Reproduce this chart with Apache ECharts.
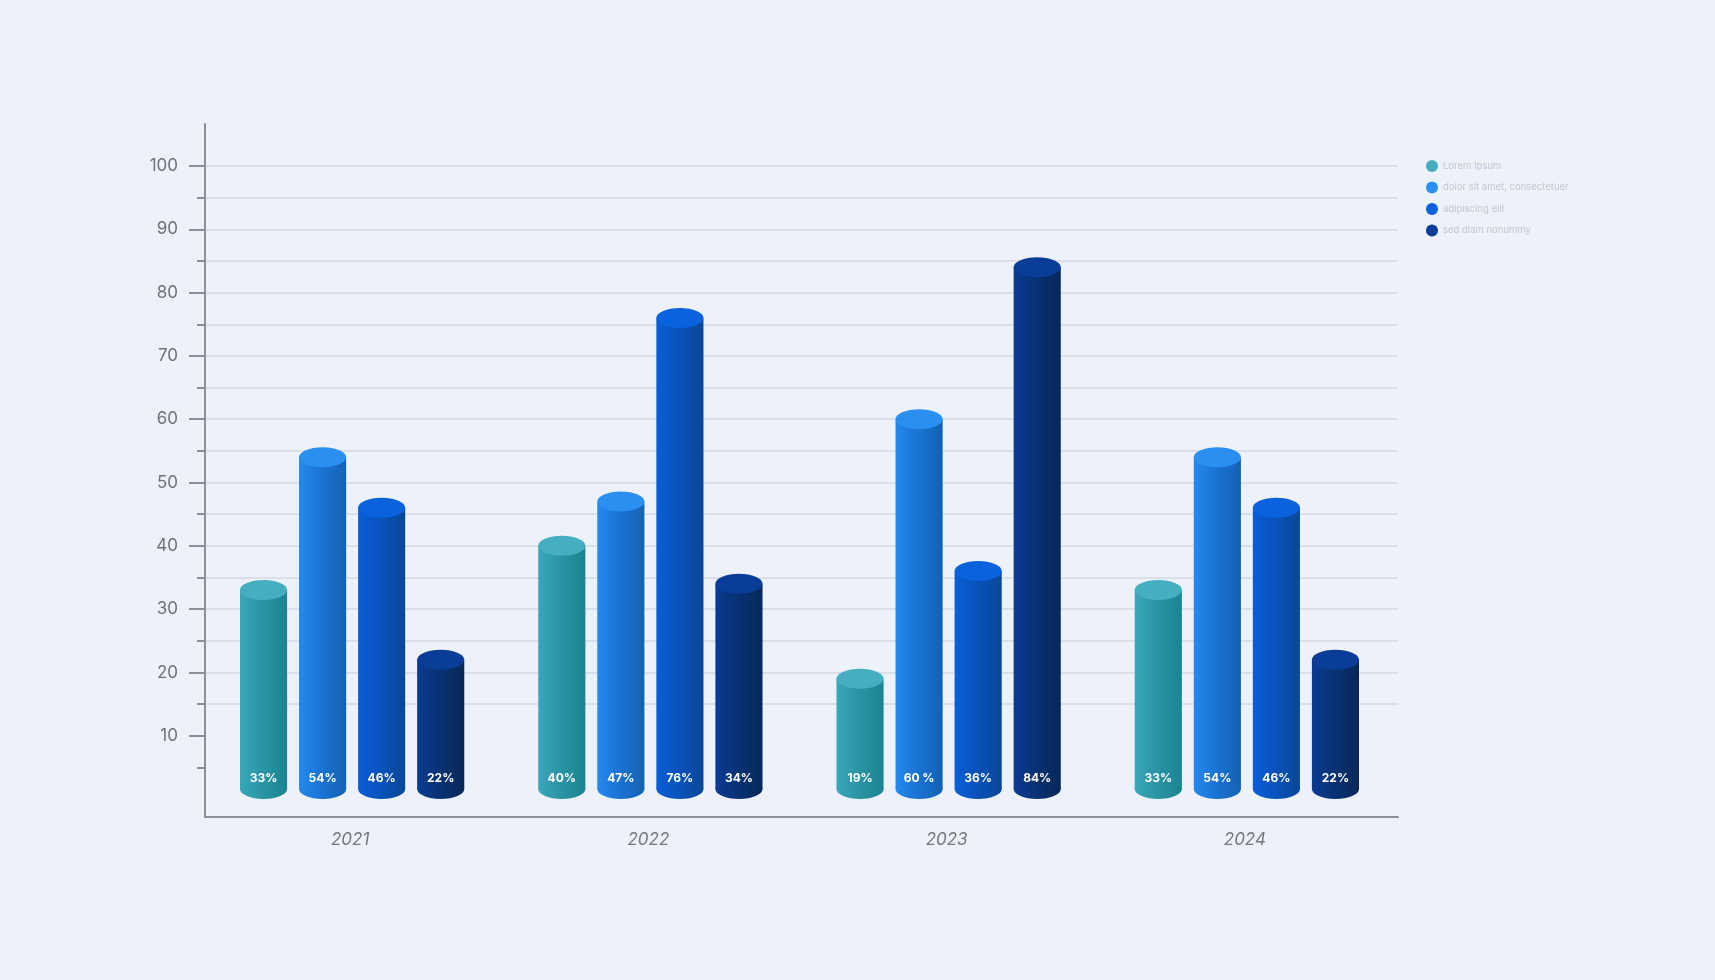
<!DOCTYPE html>
<html>
<head>
<meta charset="utf-8">
<script src="https://cdn.jsdelivr.net/npm/echarts@6/dist/echarts.min.js"></script>
<style>
  html, body { margin: 0; padding: 0; background: #edf1f9; }
  #chart { width: 1715px; height: 980px; }
</style>
</head>
<body>
<div id="chart"></div>
<script>
var years = ['2021', '2022', '2023', '2024'];
var seriesNames = ['Lorem Ipsum', 'dolor sit amet, consectetuer', 'adipiscing elit', 'sed diam nonummy'];
var loremVals = [33, 40, 19, 33];
var dolorVals = [54, 47, 60, 54];
var adipVals = [46, 76, 36, 46];
var sedVals = [22, 34, 84, 22];
var loremLabels = ['33%', '40%', '19%', '33%'];
var dolorLabels = ['54%', '47%', '60 %', '54%'];
var adipLabels = ['46%', '76%', '36%', '46%'];
var sedLabels = ['22%', '34%', '84%', '22%'];
var yMajorTicks = [10, 20, 30, 40, 50, 60, 70, 80, 90, 100];
var yMinorTicks = [5, 15, 25, 35, 45, 55, 65, 75, 85, 95];

var allVals = [loremVals, dolorVals, adipVals, sedVals];
var allLabels = [loremLabels, dolorLabels, adipLabels, sedLabels];

// cylinder colours: [top, body left, body mid, body right]
var palette = [
    ['#46aec1', '#3aa7bb', '#2a95a5', '#1b8491'],
    ['#2b8ff1', '#2489ef', '#1a74d4', '#1362b2'],
    ['#0b62dd', '#0a5ed8', '#0853bd', '#0a4795'],
    ['#0a3d98', '#0a3b92', '#083276', '#072856']
];

var chart = echarts.init(document.getElementById('chart'));

function cylinder(idx) {
    return function (params, api) {
        var cat = api.value(0);
        var val = api.value(1);
        var band = api.size([1, 0])[0];
        var basePt = api.coord([cat, 0]);
        var cx = basePt[0] + (idx - 1.5) * band * 0.198 - 2;
        var base = basePt[1];
        var top = api.coord([cat, val])[1];
        var w = band * 0.158;
        var ry = 10;
        var c = palette[idx];
        var grad = new echarts.graphic.LinearGradient(0, 0, 1, 0, [
            { offset: 0, color: c[1] },
            { offset: 0.45, color: c[2] },
            { offset: 1, color: c[3] }
        ]);
        return {
            type: 'group',
            children: [{
                type: 'ellipse',
                shape: { cx: cx, cy: base - ry, rx: w / 2, ry: ry },
                style: { fill: grad }
            }, {
                type: 'rect',
                shape: { x: cx - w / 2, y: top, width: w, height: base - ry - top },
                style: { fill: grad }
            }, {
                type: 'ellipse',
                shape: { cx: cx, cy: top, rx: w / 2, ry: ry },
                style: { fill: c[0] }
            }, {
                type: 'text',
                style: {
                    text: allLabels[idx][params.dataIndex],
                    x: cx,
                    y: base - 21,
                    align: 'center',
                    verticalAlign: 'middle',
                    textAlign: 'center',
                    textVerticalAlign: 'middle',
                    fill: '#ffffff',
                    font: 'bold 12px Inter'
                }
            }]
        };
    };
}

var series = [];
for (var i = 0; i < 4; i++) {
    series.push({
        name: seriesNames[i],
        type: 'custom',
        xAxisIndex: 0,
        yAxisIndex: 0,
        itemStyle: { color: palette[i][0] },
        renderItem: cylinder(i),
        data: years.map(function (y, k) { return [k, allVals[i][k]]; })
    });
}

var option = {
    backgroundColor: '#edf1f9',
    textStyle: { fontFamily: 'Inter' },
    legend: {
        orient: 'vertical',
        left: 1421,
        top: 155,
        icon: 'circle',
        itemWidth: 12,
        itemHeight: 12,
        itemGap: 9.5,
        textStyle: { color: '#c3c7cf', fontSize: 9.5, fontFamily: 'Inter' },
        data: seriesNames
    },
    grid: [
        { left: 205, right: 317, top: 166, bottom: 181 },
        { left: 205, right: 317, top: 124, bottom: 163 }
    ],
    xAxis: [{
        type: 'category',
        gridIndex: 0,
        data: years,
        axisLine: { show: false },
        axisTick: { show: false },
        axisLabel: { color: '#76787e', fontSize: 17, fontStyle: 'italic', margin: 32, padding: [0, 8, 0, 0] }
    }, {
        type: 'category',
        gridIndex: 1,
        data: years,
        axisLine: { show: true, lineStyle: { color: '#8c8f96', width: 2 } },
        axisTick: { show: false },
        axisLabel: { show: false }
    }],
    yAxis: [{
        type: 'value',
        gridIndex: 0,
        min: 0,
        max: 100,
        interval: 5,
        axisLine: { show: false },
        axisTick: { show: true, length: 8, customValues: yMinorTicks, lineStyle: { color: '#8c8f96', width: 2 } },
        axisLabel: { show: false },
        splitLine: { show: true, showMinLine: false, showMaxLine: true, lineStyle: { color: '#d4d8e0', width: 1.5 } }
    }, {
        type: 'value',
        gridIndex: 0,
        position: 'left',
        min: 0,
        max: 100,
        interval: 10,
        axisLine: { show: false },
        axisTick: { show: true, length: 16, customValues: yMajorTicks, lineStyle: { color: '#8c8f96', width: 2 } },
        axisLabel: { customValues: yMajorTicks, color: '#6f7278', fontSize: 17, margin: 27 },
        splitLine: { show: true, showMinLine: false, showMaxLine: true, lineStyle: { color: '#d4d8e0', width: 1.5 } }
    }, {
        type: 'value',
        gridIndex: 1,
        axisLine: { show: true, lineStyle: { color: '#8c8f96', width: 2 } },
        axisTick: { show: false },
        axisLabel: { show: false },
        splitLine: { show: false }
    }],
    series: series
};

chart.setOption(option);
window.addEventListener('resize', function () {
    chart.resize();
});
</script>
</body>
</html>
